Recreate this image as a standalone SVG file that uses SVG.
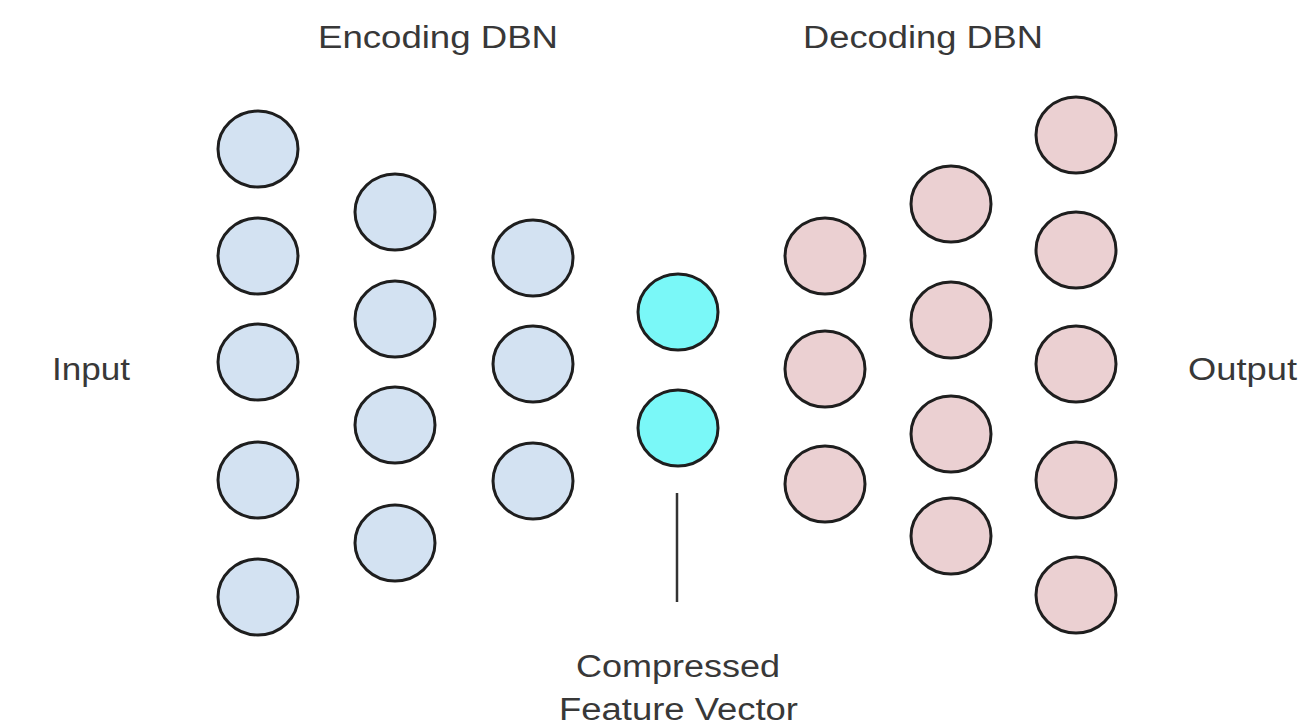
<svg xmlns="http://www.w3.org/2000/svg" width="1311" height="727" viewBox="0 0 1311 727">
  <style>
    .enc { fill: #d3e2f2; }
    .code { fill: #7af8f8; }
    .dec { fill: #ebd0d2; }
    .unit { stroke: #1e1e1e; stroke-width: 3; }
    .lbl { font-family: "Liberation Sans", Arial, sans-serif; font-size: 31px; fill: #383838; }
  </style>
  <rect width="1311" height="727" fill="#ffffff"/>

  <!-- layer titles and side labels -->
  <g id="label-encoding"><text class="lbl" x="318" y="48" textLength="240" lengthAdjust="spacingAndGlyphs">Encoding DBN</text></g>
  <g id="label-decoding"><text class="lbl" x="803" y="48" textLength="240" lengthAdjust="spacingAndGlyphs">Decoding DBN</text></g>
  <g id="label-input"><text class="lbl" x="52" y="380" textLength="78" lengthAdjust="spacingAndGlyphs">Input</text></g>
  <g id="label-output"><text class="lbl" x="1188" y="380" textLength="109" lengthAdjust="spacingAndGlyphs">Output</text></g>
  <g id="label-code">
    <text class="lbl" x="576" y="677" textLength="204" lengthAdjust="spacingAndGlyphs">Compressed</text>
    <text class="lbl" x="559" y="720" textLength="239" lengthAdjust="spacingAndGlyphs">Feature Vector</text>
  </g>

  <!-- connectors -->
  <g id="connectors">
    <line x1="677" y1="493" x2="677" y2="602" stroke="#333333" stroke-width="2.5"/>
  </g>

  <!-- encoder layer 1 (input) -->
  <g id="enc1">
    <ellipse class="enc unit" cx="258" cy="149" rx="40" ry="38"/>
    <ellipse class="enc unit" cx="258" cy="256" rx="40" ry="38"/>
    <ellipse class="enc unit" cx="258" cy="362" rx="40" ry="38"/>
    <ellipse class="enc unit" cx="258" cy="480" rx="40" ry="38"/>
    <ellipse class="enc unit" cx="258" cy="597" rx="40" ry="38"/>
  </g>
  <!-- encoder layer 2 -->
  <g id="enc2">
    <ellipse class="enc unit" cx="395" cy="212" rx="40" ry="38"/>
    <ellipse class="enc unit" cx="395" cy="319" rx="40" ry="38"/>
    <ellipse class="enc unit" cx="395" cy="425" rx="40" ry="38"/>
    <ellipse class="enc unit" cx="395" cy="543" rx="40" ry="38"/>
  </g>
  <!-- encoder layer 3 -->
  <g id="enc3">
    <ellipse class="enc unit" cx="533" cy="258" rx="40" ry="38"/>
    <ellipse class="enc unit" cx="533" cy="364" rx="40" ry="38"/>
    <ellipse class="enc unit" cx="533" cy="481" rx="40" ry="38"/>
  </g>
  <!-- code layer -->
  <g id="code">
    <ellipse class="code unit" cx="678" cy="312" rx="40" ry="38"/>
    <ellipse class="code unit" cx="678" cy="428" rx="40" ry="38"/>
  </g>
  <!-- decoder layer 1 -->
  <g id="dec1">
    <ellipse class="dec unit" cx="825" cy="256" rx="40" ry="38"/>
    <ellipse class="dec unit" cx="825" cy="369" rx="40" ry="38"/>
    <ellipse class="dec unit" cx="825" cy="484" rx="40" ry="38"/>
  </g>
  <!-- decoder layer 2 -->
  <g id="dec2">
    <ellipse class="dec unit" cx="951" cy="204" rx="40" ry="38"/>
    <ellipse class="dec unit" cx="951" cy="320" rx="40" ry="38"/>
    <ellipse class="dec unit" cx="951" cy="434" rx="40" ry="38"/>
    <ellipse class="dec unit" cx="951" cy="536" rx="40" ry="38"/>
  </g>
  <!-- decoder layer 3 (output) -->
  <g id="dec3">
    <ellipse class="dec unit" cx="1076" cy="135" rx="40" ry="38"/>
    <ellipse class="dec unit" cx="1076" cy="250" rx="40" ry="38"/>
    <ellipse class="dec unit" cx="1076" cy="364" rx="40" ry="38"/>
    <ellipse class="dec unit" cx="1076" cy="480" rx="40" ry="38"/>
    <ellipse class="dec unit" cx="1076" cy="595" rx="40" ry="38"/>
  </g>
</svg>
